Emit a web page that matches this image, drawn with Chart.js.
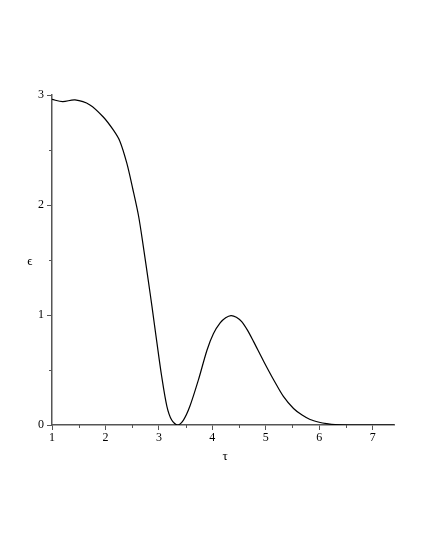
<!DOCTYPE html>
<html>
<head>
<meta charset="utf-8">
<script src="https://cdn.jsdelivr.net/npm/chart.js@4"></script>
<style>
  html, body { margin: 0; padding: 0; background: #fff; }
  #wrap { width: 425px; height: 550px; }
</style>
</head>
<body>
<div id="wrap"><canvas id="myChart" width="425" height="550"></canvas></div>
<script>
// curve
const tau = [1.0, 1.2, 1.43, 1.71, 1.96, 2.15, 2.27, 2.40, 2.51, 2.62, 2.71, 2.80, 2.87, 2.96, 3.05, 3.15, 3.24, 3.35, 3.46, 3.58, 3.74, 3.90, 4.02, 4.15, 4.25, 4.35, 4.45, 4.55, 4.66, 4.77, 4.96, 5.16, 5.33, 5.52, 5.68, 5.83, 6.0, 6.14, 6.3, 6.6, 7.0, 7.4];
const eps = [2.96, 2.94, 2.955, 2.91, 2.80, 2.68, 2.58, 2.38, 2.15, 1.90, 1.62, 1.32, 1.08, 0.76, 0.45, 0.17, 0.045, 0, 0.045, 0.17, 0.41, 0.68, 0.83, 0.93, 0.975, 0.995, 0.98, 0.94, 0.86, 0.76, 0.58, 0.40, 0.26, 0.15, 0.09, 0.05, 0.025, 0.012, 0.003, 0, 0, 0];

const xTicks = [1, 2, 3, 4, 5, 6, 7];
const yTicks = [0, 1, 2, 3];
const xMinor = [1.5, 2.5, 3.5, 4.5, 5.5, 6.5];
const yMinor = [0.5, 1.5, 2.5];

const axisColor = '#555';
const serif = 'Liberation Serif';

// minor ticks + axis symbols
const extras = {
    id: 'extras',
    afterDraw(chart) {
        const c = chart.ctx;
        const x = chart.scales.x, y = chart.scales.y;
        const area = chart.chartArea;
        c.save();
        c.strokeStyle = axisColor;
        c.lineWidth = 1;
        c.beginPath();
        xMinor.forEach(v => {
            let px = Math.round(x.getPixelForValue(v)) + 0.5;
            c.moveTo(px, area.bottom);
            c.lineTo(px, area.bottom + 3);
        });
        yMinor.forEach(v => {
            let py = Math.round(y.getPixelForValue(v)) + 0.5;
            c.moveTo(area.left, py);
            c.lineTo(area.left - 3, py);
        });
        c.stroke();
        c.fillStyle = '#000';
        c.font = '13px "' + serif + '"';
        c.textAlign = 'center';
        c.textBaseline = 'middle';
        c.fillText('\u03F5', 30, 262);
        c.fillText('\u03C4', 225, 457);
        c.restore();
    }
};

new Chart(document.getElementById('myChart'), {
    type: 'line',
    data: {
        datasets: [{
            data: tau.map((t, i) => ({ x: t, y: eps[i] })),
            borderColor: '#000',
            borderWidth: 1.2,
            pointRadius: 0,
            tension: 0.3,
            fill: false
        }]
    },
    options: {
        responsive: false,
        animation: false,
        layout: { padding: { top: 95, right: 31, left: 0, bottom: 0 } },
        plugins: { legend: { display: false }, tooltip: { enabled: false } },
        scales: {
            x: {
                type: 'linear',
                min: 1,
                max: 7.4,
                afterBuildTicks: s => { s.ticks = xTicks.map(v => ({ value: v })); },
                afterFit: s => { s.height = 125; },
                border: { color: axisColor, width: 1.5 },
                grid: { drawOnChartArea: false, tickLength: 5, color: axisColor },
                ticks: { color: '#000', padding: 1, maxRotation: 0, font: { family: serif, size: 12 } }
            },
            y: {
                type: 'linear',
                min: 0,
                max: 3,
                afterBuildTicks: s => { s.ticks = yTicks.map(v => ({ value: v })); },
                afterFit: s => { s.width = 52; },
                border: { color: axisColor, width: 1.5 },
                grid: { drawOnChartArea: false, tickLength: 5, color: axisColor },
                ticks: { color: '#000', padding: 3, font: { family: serif, size: 12 } }
            }
        }
    },
    plugins: [extras]
});
</script>
</body>
</html>
